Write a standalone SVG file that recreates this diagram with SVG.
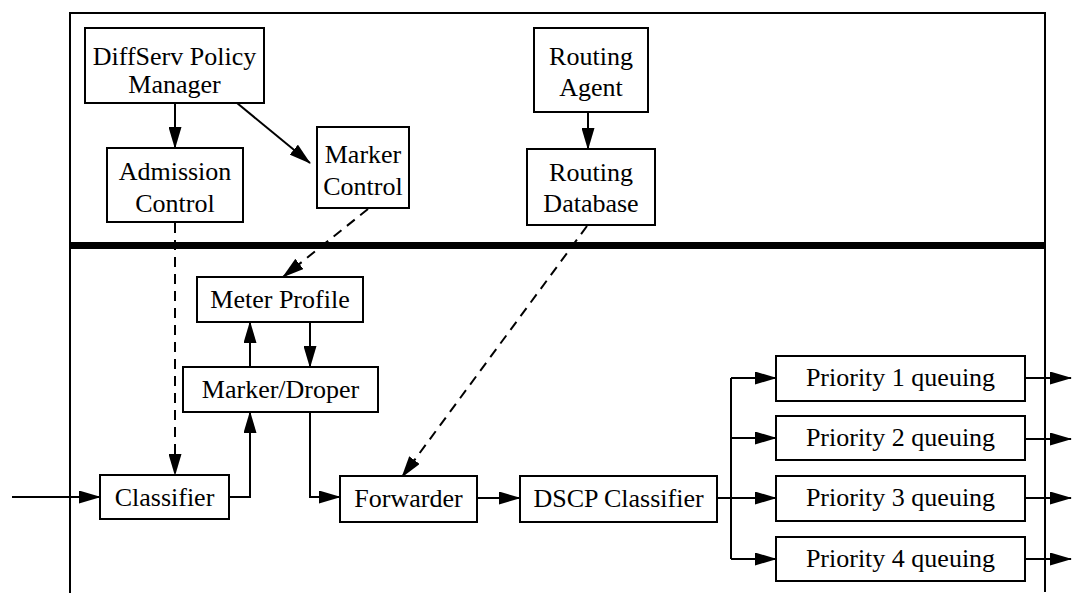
<svg xmlns="http://www.w3.org/2000/svg" width="1072" height="593" viewBox="0 0 1072 593">
  <style>
    .box { fill: #fff; stroke: #000; stroke-width: 2; }
    .lbl { font-family: "Liberation Serif", "Times New Roman", serif; font-size: 26px; fill: #000; text-anchor: middle; }
    .ln { fill: none; stroke: #000; stroke-width: 2; }
    .arr { fill: none; stroke: #000; stroke-width: 2; marker-end: url(#head); }
    .dash { fill: none; stroke: #000; stroke-width: 2; stroke-dasharray: 10 7; marker-end: url(#head); }
    .frame { fill: none; stroke: #000; stroke-width: 2; }
  </style>
  <defs>
    <marker id="head" markerUnits="userSpaceOnUse" markerWidth="22" markerHeight="13" viewBox="0 0 22 13" refX="21" refY="6.5" orient="auto">
      <path d="M0,0 L22,6.5 L0,13 z" fill="#000"/>
    </marker>
  </defs>
  <rect width="1072" height="593" fill="#fff"/>

  <!-- enclosing frame and control/data plane divider -->
  <g id="frame">
    <path class="frame" d="M70,593 L70,13 L1045,13 L1045,592"/>
    <line x1="70" y1="245.5" x2="1045" y2="245.5" stroke="#000" stroke-width="7"/>
  </g>

  <!-- connectors -->
  <g id="connectors">
    <line class="arr" x1="175" y1="103" x2="175" y2="148"/>
    <line class="arr" x1="237" y1="103" x2="310" y2="163"/>
    <line class="arr" x1="588" y1="112" x2="588" y2="149"/>
    <line class="dash" x1="175" y1="223" x2="175" y2="475"/>
    <line class="dash" x1="368" y1="209" x2="283" y2="277"/>
    <line class="dash" x1="587" y1="226" x2="402" y2="477"/>
    <line class="arr" x1="12" y1="497" x2="100" y2="497"/>
    <path class="arr" d="M229,497 L250,497 L250,412"/>
    <line class="arr" x1="250" y1="367" x2="250" y2="322"/>
    <line class="arr" x1="310" y1="322" x2="310" y2="367"/>
    <path class="arr" d="M310,412 L310,497 L340,497"/>
    <line class="arr" x1="477" y1="498" x2="520" y2="498"/>
    <line class="ln" x1="717" y1="498" x2="731" y2="498"/>
    <line class="ln" x1="731" y1="378" x2="731" y2="559"/>
    <line class="arr" x1="731" y1="378" x2="776" y2="378"/>
    <line class="arr" x1="731" y1="438" x2="776" y2="438"/>
    <line class="arr" x1="731" y1="498" x2="776" y2="498"/>
    <line class="arr" x1="731" y1="559" x2="776" y2="559"/>
    <line class="arr" x1="1025" y1="378" x2="1071" y2="378"/>
    <line class="arr" x1="1025" y1="439" x2="1071" y2="439"/>
    <line class="arr" x1="1025" y1="498" x2="1071" y2="498"/>
    <line class="arr" x1="1025" y1="559" x2="1071" y2="559"/>
  </g>

  <g id="policy-manager">
    <rect class="box" x="85" y="28" width="179" height="75"/>
    <text class="lbl" x="174.5" y="65">DiffServ Policy</text>
    <text class="lbl" x="174.5" y="93">Manager</text>
  </g>
  <g id="admission-control">
    <rect class="box" x="107" y="148" width="136" height="74"/>
    <text class="lbl" x="175" y="180">Admission</text>
    <text class="lbl" x="175" y="212">Control</text>
  </g>
  <g id="marker-control">
    <rect class="box" x="317" y="127" width="92" height="81"/>
    <text class="lbl" x="363" y="163">Marker</text>
    <text class="lbl" x="363" y="195">Control</text>
  </g>
  <g id="routing-agent">
    <rect class="box" x="534" y="28" width="114" height="84"/>
    <text class="lbl" x="591" y="65">Routing</text>
    <text class="lbl" x="591" y="96">Agent</text>
  </g>
  <g id="routing-database">
    <rect class="box" x="527" y="149" width="128" height="76"/>
    <text class="lbl" x="591" y="181">Routing</text>
    <text class="lbl" x="591" y="212">Database</text>
  </g>
  <g id="meter-profile">
    <rect class="box" x="197" y="277" width="166" height="45"/>
    <text class="lbl" x="280" y="308">Meter Profile</text>
  </g>
  <g id="marker-droper">
    <rect class="box" x="183" y="367" width="195" height="45"/>
    <text class="lbl" x="280.5" y="398">Marker/Droper</text>
  </g>
  <g id="classifier">
    <rect class="box" x="100" y="475" width="129" height="44"/>
    <text class="lbl" x="164.5" y="506">Classifier</text>
  </g>
  <g id="forwarder">
    <rect class="box" x="340" y="476" width="137" height="46"/>
    <text class="lbl" x="408.5" y="507">Forwarder</text>
  </g>
  <g id="dscp-classifier">
    <rect class="box" x="520" y="476" width="197" height="46"/>
    <text class="lbl" x="618.5" y="507">DSCP Classifier</text>
  </g>
  <g id="priority-1">
    <rect class="box" x="776" y="356" width="249" height="45"/>
    <text class="lbl" x="900.5" y="386">Priority 1 queuing</text>
  </g>
  <g id="priority-2">
    <rect class="box" x="776" y="416" width="249" height="44"/>
    <text class="lbl" x="900.5" y="446">Priority 2 queuing</text>
  </g>
  <g id="priority-3">
    <rect class="box" x="776" y="476" width="249" height="45"/>
    <text class="lbl" x="900.5" y="506">Priority 3 queuing</text>
  </g>
  <g id="priority-4">
    <rect class="box" x="776" y="537" width="249" height="44"/>
    <text class="lbl" x="900.5" y="567">Priority 4 queuing</text>
  </g>
</svg>
